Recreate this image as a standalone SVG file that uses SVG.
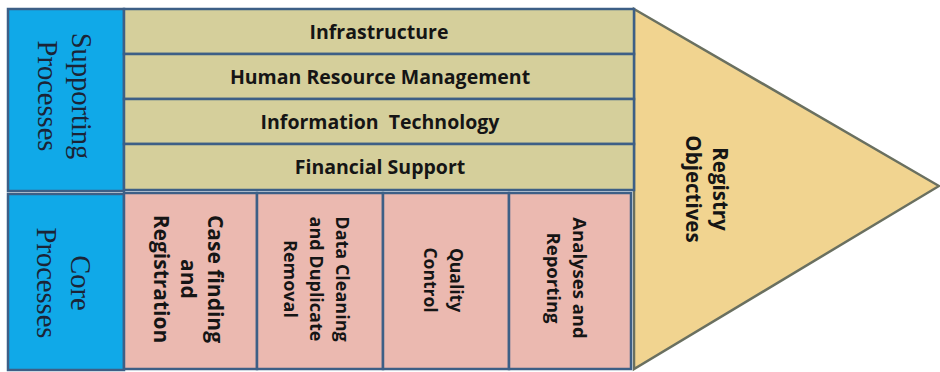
<svg xmlns="http://www.w3.org/2000/svg" width="940" height="372" viewBox="0 0 940 372">
<style>
.blue{fill:#10a9e8;stroke:#3d5f86;stroke-width:2.5}
.khaki{fill:#d5cf9b;stroke:#3d5f86;stroke-width:2.5}
.pink{fill:#ebb9b0;stroke:#3d5f86;stroke-width:2.5}
.tri{fill:#f1d490;stroke:#6a7060;stroke-width:2.5;stroke-linejoin:miter}
.serif{font-family:"Liberation Serif","Times New Roman",serif;font-size:28.5px;fill:#1b2436;text-anchor:middle}
.bar{font-family:"Open Sans","Liberation Sans",sans-serif;font-weight:bold;font-size:19.5px;fill:#151515;text-anchor:middle}
.rot{font-family:"Open Sans","Liberation Sans",sans-serif;font-weight:bold;fill:#151515;text-anchor:middle}
</style>
<g id="objectives">
<polygon class="tri" points="634,9 939,186 634,369"/>
<g transform="translate(707,189) rotate(90)"><text class="rot" font-size="20.5"><tspan x="0" y="-6">Registry</tspan><tspan x="0" y="21">Objectives</tspan></text></g>
</g>
<g id="supporting">
<rect class="blue" x="8" y="9" width="116" height="182"/>
<g transform="translate(65,96) rotate(90)"><text class="serif"><tspan x="0" y="-7">Supporting</tspan><tspan x="0" y="27">Processes</tspan></text></g>
</g>
<g id="core">
<rect class="blue" x="8" y="194" width="116" height="176"/>
<g transform="translate(64,283) rotate(90)"><text class="serif"><tspan x="0" y="-7">Core</tspan><tspan x="0" y="27">Processes</tspan></text></g>
</g>
<g id="infrastructure">
<rect class="khaki" x="124" y="9" width="510" height="45"/>
<text class="bar" x="379" y="39" font-size="20.5">Infrastructure</text>
</g>
<g id="hrm">
<rect class="khaki" x="124" y="54" width="510" height="45"/>
<text class="bar" x="380" y="84">Human Resource Management</text>
</g>
<g id="it">
<rect class="khaki" x="124" y="99" width="510" height="45"/>
<text class="bar" x="380" y="129" xml:space="preserve">Information  Technology</text>
</g>
<g id="finance">
<rect class="khaki" x="124" y="144" width="510" height="46"/>
<text class="bar" x="380" y="174">Financial Support</text>
</g>
<g id="case">
<rect class="pink" x="124" y="193" width="133" height="176"/>
<g transform="translate(188,279) rotate(90)"><text class="rot" font-size="21"><tspan x="0" y="-20">Case finding</tspan><tspan x="0" y="7">and</tspan><tspan x="0" y="34">Registration</tspan></text></g>
</g>
<g id="cleaning">
<rect class="pink" x="257" y="193" width="126" height="176"/>
<g transform="translate(316,279) rotate(90)"><text class="rot" font-size="18"><tspan x="0" y="-20">Data Cleaning</tspan><tspan x="0" y="6">and Duplicate</tspan><tspan x="0" y="32">Removal</tspan></text></g>
</g>
<g id="quality">
<rect class="pink" x="383" y="193" width="126" height="176"/>
<g transform="translate(443,280) rotate(90)"><text class="rot" font-size="17.5"><tspan x="0" y="-7">Quality</tspan><tspan x="0" y="19">Control</tspan></text></g>
</g>
<g id="analyses">
<rect class="pink" x="509" y="193" width="122" height="176"/>
<g transform="translate(566,278) rotate(90)"><text class="rot" font-size="18.5"><tspan x="0" y="-7">Analyses and</tspan><tspan x="0" y="19">Reporting</tspan></text></g>
</g>
<g id="connectors"></g>
</svg>
